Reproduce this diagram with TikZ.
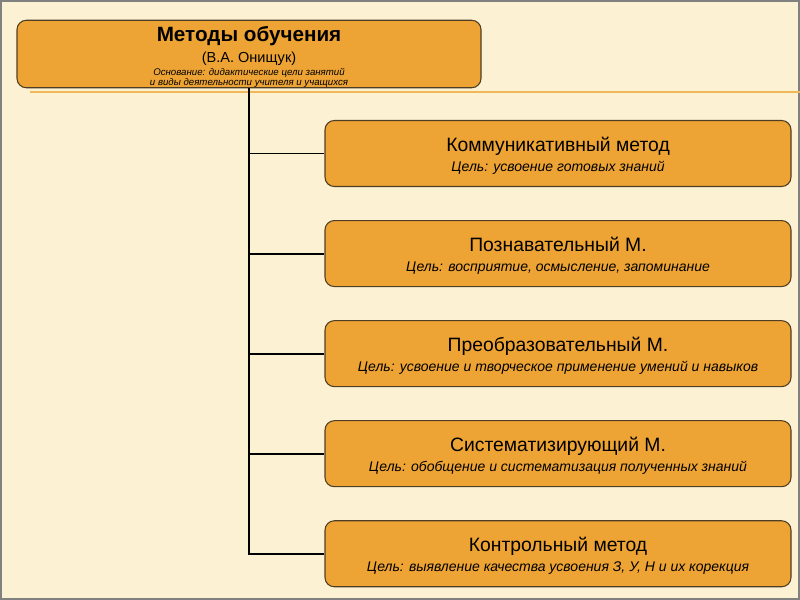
\documentclass[tikz,border=0pt]{standalone}
\usepackage{fontspec}
\setmainfont{Liberation Sans}
\usetikzlibrary{positioning}
\definecolor{Cream}{RGB}{252,241,210}
\definecolor{Amber}{RGB}{238,164,52}
\definecolor{Umber}{RGB}{80,62,36}
\definecolor{Rule}{RGB}{240,184,88}
\definecolor{Frame}{RGB}{128,128,128}

\begin{document}
\begin{tikzpicture}[x=0.75pt,y=-0.75pt,node distance=24.75pt,
 b/.style={rounded corners=7pt,draw=Umber,line width=0.8pt,fill=Amber,minimum width=349.5pt,minimum height=49.5pt,align=center,inner sep=2pt},
 a/.style={line width=1.4pt,black}]
\useasboundingbox (0,0) rectangle (800,600);
\draw[fill=Cream,draw=Frame,line width=1.5pt] (1,1) rectangle (799,599);
\draw[Rule,line width=1.5pt] (30,92) -- (800,92);
\node[b,minimum width=348pt,inner ysep=0pt] (top) at (249,54) {{\fontsize{15.5}{17}\selectfont\bfseries\rule{0pt}{16.3pt}Методы обучения}\\[3.6pt]
 {\fontsize{10.9}{12}\selectfont (В.А. Онищук)}\\[-2.8pt]
 {\fontsize{7.25}{8}\selectfont\itshape Основание: дидактические цели занятий}\\[-4pt]
 {\fontsize{7.25}{8}\selectfont\itshape и виды деятельности учителя и учащихся}};
\node[b] (k1) at (558,153.5) {{\fontsize{14.5}{16}\selectfont\rule{0pt}{14.2pt}Коммуникативный метод}\\[3.2pt]
 {\fontsize{10.5}{12}\selectfont\itshape Цель: усвоение готовых знаний}};
\node[b,below=of k1] (k2) {{\fontsize{14.5}{16}\selectfont\rule{0pt}{14.2pt}Познавательный М.}\\[3.2pt]
 {\fontsize{10.5}{12}\selectfont\itshape Цель: восприятие, осмысление, запоминание}};
\node[b,below=of k2] (k3) {{\fontsize{14.5}{16}\selectfont\rule{0pt}{14.2pt}Преобразовательный М.}\\[3.2pt]
 {\fontsize{10.5}{12}\selectfont\itshape Цель: усвоение и творческое применение умений и навыков}};
\node[b,below=of k3] (k4) {{\fontsize{14.5}{16}\selectfont\rule{0pt}{14.2pt}Систематизирующий М.}\\[3.2pt]
 {\fontsize{10.5}{12}\selectfont\itshape Цель: обобщение и систематизация полученных знаний}};
\node[b,below=of k4] (k5) {{\fontsize{14.5}{16}\selectfont\rule{0pt}{14.2pt}Контрольный метод}\\[3.2pt]
 {\fontsize{10.5}{12}\selectfont\itshape Цель: выявление качества усвоения З, У, Н и их корекция}};
\draw[a] (top.south) |- (k1.west);\draw[a] (top.south) |- (k2.west);\draw[a] (top.south) |- (k3.west);
\draw[a] (top.south) |- (k4.west);\draw[a] (top.south) |- (k5.west);
\end{tikzpicture}
\end{document}
